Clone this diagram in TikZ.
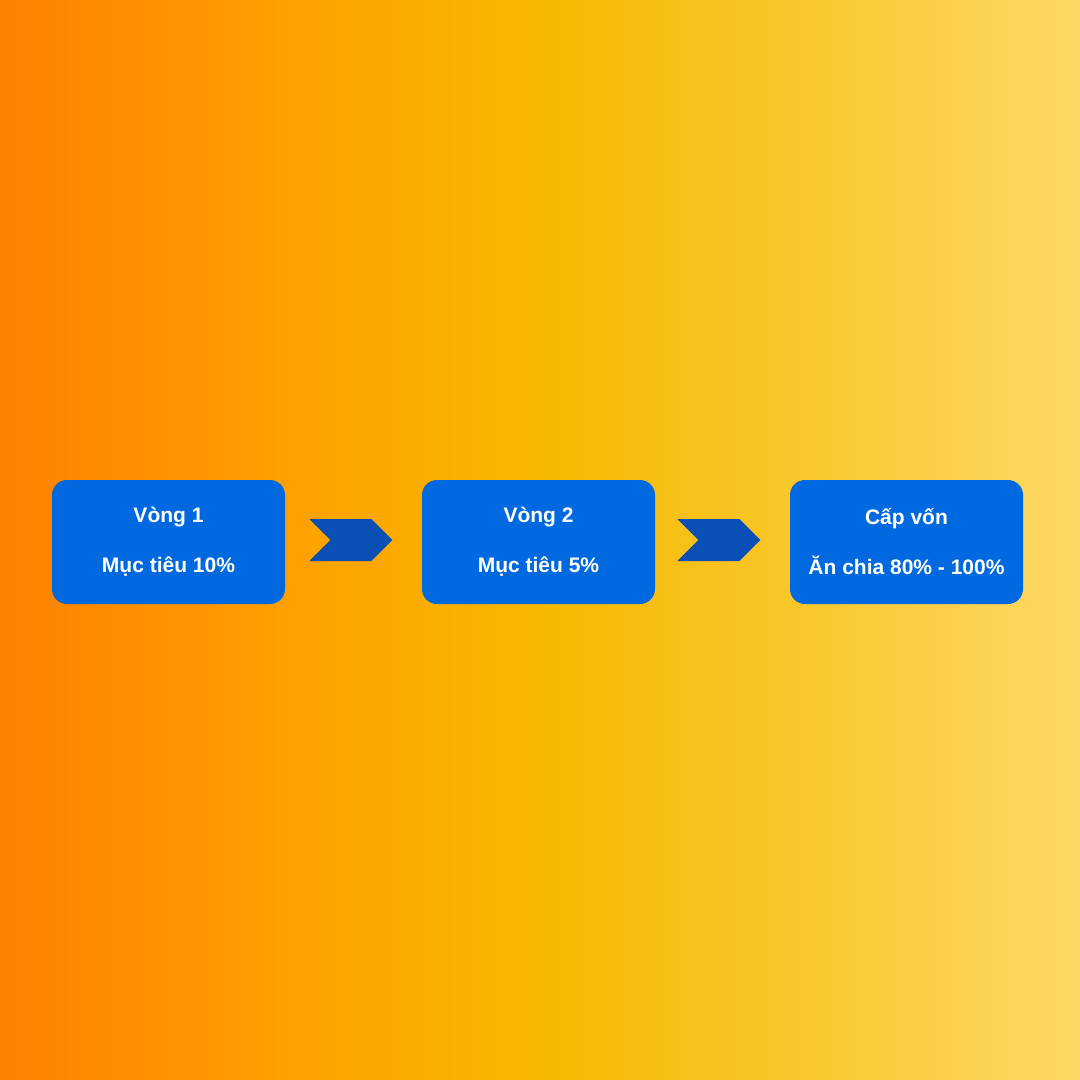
\documentclass[tikz,border=0pt]{standalone}
\usepackage{fontspec}
\setmainfont{Liberation Sans}
\usetikzlibrary{positioning,shapes.symbols}

\definecolor{bgA}{HTML}{FF8000}
\definecolor{bgB}{HTML}{FF9E00}
\definecolor{bgC}{HTML}{F6B800}
\definecolor{bgD}{HTML}{F9C82E}
\definecolor{bgE}{HTML}{FCD966}
\definecolor{boxblue}{HTML}{0069E0}
\definecolor{chevblue}{HTML}{0A4FB4}

% the shaded path covers 25bp..75bp of the shading
\pgfdeclarehorizontalshading{bgshade}{100bp}{color(0bp)=(bgA); color(25bp)=(bgA); color(37.5bp)=(bgB); color(50bp)=(bgC); color(62.5bp)=(bgD); color(75bp)=(bgE); color(100bp)=(bgE)}

\tikzset{
  stagebox/.style={rectangle, rounded corners=15, fill=boxblue, text=white,
    minimum width=233, minimum height=124, inner sep=0pt, align=center,
    font=\bfseries\fontsize{21}{50}\selectfont},
  chevron/.style={signal, signal from=west, signal to=east, signal pointer angle=90,
    fill=chevblue, minimum width=83, minimum height=42, inner sep=0pt}
}

\begin{document}
\begin{tikzpicture}[x=1pt,y=1pt,yscale=-1,xscale=1]
% background
\shade[shading=bgshade] (0,0) rectangle (1080,1080);
\useasboundingbox (0,0) rectangle (1080,1080);

% stages
\node[stagebox] (round1) at (168.5,542) {Vòng 1\\Mục tiêu 10\%};
\node[stagebox] (round2) at (538.5,542) {Vòng 2\\Mục tiêu 5\%};
\node[stagebox] (funding) at (906.5,542) {Cấp vốn\\Ăn chia 80\% - 100\%};

% chevrons between stages
\node[chevron, right=45 of round1.east, yshift=2] (chev1) {};
\node[chevron, right=43 of round2.east, yshift=2] (chev2) {};

\end{tikzpicture}
\end{document}
